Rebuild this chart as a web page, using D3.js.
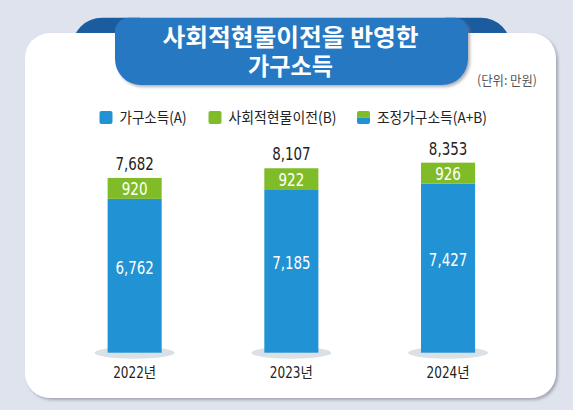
<!DOCTYPE html>
<html>
<head>
<meta charset="utf-8">
<script src="https://cdn.jsdelivr.net/npm/d3@7"></script>
<style>
	html, body { margin: 0; padding: 0; background: #dfe3ee; }
	svg { display: block; }
</style>
</head>
<body>
<div id="vis"></div>
<script>
// chart values
var years = ['2022년', '2023년', '2024년'];
var incomeA = [6762, 7185, 7427];
var transferB = [920, 922, 926];
var totalAB = [7682, 8107, 8353];
var legendLabels = ['가구소득(A)', '사회적현물이전(B)', '조정가구소득(A+B)'];
var titleLines = ['사회적현물이전을 반영한', '가구소득'];
var unitLabel = '(단위: 만원)';

var width = 573, height = 410;
var numFont = '"Liberation Sans Narrow", "DejaVu Sans Condensed", "Noto Sans CJK KR", sans-serif';
var korFont = '"Noto Sans CJK KR", "Noto Sans", sans-serif';
var blue = '#2192d3', green = '#80bc28';

var svg = d3.select('#vis').append('svg')
	.attr('width', width)
	.attr('height', height);

var defs = svg.append('defs');
var shadow = defs.append('filter').attr('id', 'shadow')
	.attr('x', '-5%').attr('y', '-5%').attr('width', '112%').attr('height', '115%');
shadow.append('feDropShadow')
	.attr('dx', 2).attr('dy', 2).attr('stdDeviation', 1.6)
	.attr('flood-color', '#7a7f8a').attr('flood-opacity', 0.6);

// rounded box path, one radius per corner
function box(x0, y0, x1, y1, tl, tr, br, bl) {
	return 'M' + (x0 + tl) + ',' + y0 +
		'H' + (x1 - tr) + 'A' + tr + ',' + tr + ' 0 0 1 ' + x1 + ',' + (y0 + tr) +
		'V' + (y1 - br) + 'A' + br + ',' + br + ' 0 0 1 ' + (x1 - br) + ',' + y1 +
		'H' + (x0 + bl) + 'A' + bl + ',' + bl + ' 0 0 1 ' + x0 + ',' + (y1 - bl) +
		'V' + (y0 + tl) + 'A' + tl + ',' + tl + ' 0 0 1 ' + (x0 + tl) + ',' + y0 + 'Z';
}

// narrow number width (the reference uses a condensed face)
function numWidth(s) {
	var w = 0;
	for (var i = 0; i < s.length; i++) w += (s[i] === ',') ? 4 : 8.6;
	return w;
}

// dark tabs behind the card
svg.append('path').attr('d', box(72, 17.7, 140, 60, 30, 0, 0, 0)).attr('fill', '#1b5c9f');
svg.append('path').attr('d', box(445, 17.7, 511, 60, 0, 30, 0, 0)).attr('fill', '#1b5c9f');

// white card
svg.append('rect')
	.attr('x', 25).attr('y', 33)
	.attr('width', 531).attr('height', 365)
	.attr('rx', 25)
	.attr('fill', '#ffffff')
	.attr('filter', 'url(#shadow)');

// title banner
svg.append('path')
	.attr('d', box(115, 17.7, 468, 85, 14, 14, 26, 26))
	.attr('fill', '#2878c2')
	.attr('filter', 'url(#shadow)');

// two line title, one text element
var title = svg.append('text')
	.attr('text-anchor', 'middle')
	.style('font-family', korFont)
	.style('font-weight', 'bold')
	.style('font-size', '24px')
	.style('fill', '#ffffff');
title.selectAll('tspan')
	.data(titleLines)
	.enter().append('tspan')
	.attr('x', 290.5)
	.attr('y', function(d, i) { return 46 + i * 29; })
	.attr('textLength', function(d, i) { return i === 0 ? 256 : 85; })
	.attr('lengthAdjust', 'spacingAndGlyphs')
	.text(function(d) { return d; });

svg.append('text')
	.attr('x', 537).attr('y', 85)
	.attr('text-anchor', 'end')
	.attr('textLength', 60)
	.attr('lengthAdjust', 'spacingAndGlyphs')
	.style('font-family', korFont)
	.style('font-size', '13px')
	.style('fill', '#555555')
	.text(unitLabel);

// legend
var legendX = [99.5, 208.5, 357];
var legendW = [67, 108, 110];
var lg = svg.selectAll('.legend')
	.data(legendLabels)
	.enter().append('g')
	.attr('class', 'legend')
	.attr('transform', function(d, i) { return 'translate(' + legendX[i] + ',111)'; });

lg.each(function(d, i) {
	var g = d3.select(this);
	if (i < 2) {
		g.append('rect').attr('width', 13).attr('height', 13).attr('rx', 2)
			.attr('fill', i === 0 ? blue : green);
	} else {
		g.append('path').attr('d', box(0, 0, 13, 6.5, 2, 2, 0, 0)).attr('fill', green);
		g.append('path').attr('d', box(0, 6.5, 13, 13, 0, 0, 2, 2)).attr('fill', blue);
	}
	g.append('text')
		.attr('x', 20).attr('y', 11.5)
		.attr('textLength', legendW[i])
		.attr('lengthAdjust', 'spacingAndGlyphs')
		.style('font-family', korFont)
		.style('font-size', '15px')
		.style('fill', '#222222')
		.text(d);
});

// scales
var baseY = 352.7;
var x = d3.scaleBand()
	.domain(years)
	.range([56.3, 526.4])
	.paddingInner(0.655)
	.paddingOuter(0.3275);
var y = d3.scaleLinear()
	.domain([0, 10000])
	.range([baseY, baseY - 227.5]);

var cx = function(d) { return x(d) + x.bandwidth() / 2; };
var fmt = d3.format(',');

var bars = svg.selectAll('.bar')
	.data(years)
	.enter().append('g')
	.attr('class', 'bar');

// floor shadow
bars.append('ellipse')
	.attr('cx', cx)
	.attr('cy', baseY)
	.attr('rx', 40).attr('ry', 6)
	.attr('fill', '#d9e0e6');

// A segment
bars.append('rect')
	.attr('x', function(d) { return x(d); })
	.attr('y', function(d, i) { return y(incomeA[i]); })
	.attr('width', x.bandwidth())
	.attr('height', function(d, i) { return baseY - y(incomeA[i]); })
	.attr('fill', blue);

// B segment on top
bars.append('rect')
	.attr('x', function(d) { return x(d); })
	.attr('y', function(d, i) { return y(incomeA[i] + transferB[i]); })
	.attr('width', x.bandwidth())
	.attr('height', function(d, i) { return y(incomeA[i]) - y(incomeA[i] + transferB[i]); })
	.attr('fill', green);

function numLabel(sel, vals, yf, color) {
	sel.append('text')
		.attr('x', cx)
		.attr('y', yf)
		.attr('text-anchor', 'middle')
		.attr('textLength', function(d, i) { return numWidth(fmt(vals[i])); })
		.attr('lengthAdjust', 'spacingAndGlyphs')
		.style('font-family', numFont)
		.style('font-size', '18px')
		.style('fill', color)
		.text(function(d, i) { return fmt(vals[i]); });
}

// value inside blue
numLabel(bars, incomeA, function(d, i) { return (y(incomeA[i]) + baseY) / 2 - 2; }, '#ffffff');
// value inside green
numLabel(bars, transferB, function(d, i) { return (y(incomeA[i]) + y(incomeA[i] + transferB[i])) / 2 + 7; }, '#ffffff');
// total above
numLabel(bars, totalAB, function(d, i) { return y(totalAB[i]) - 8; }, '#222222');

// year labels
bars.append('text')
	.attr('x', cx)
	.attr('y', 377.7)
	.attr('text-anchor', 'middle')
	.attr('textLength', 43)
	.attr('lengthAdjust', 'spacingAndGlyphs')
	.style('font-family', numFont)
	.style('font-size', '15px')
	.style('fill', '#222222')
	.text(function(d) { return d; });
</script>
</body>
</html>
